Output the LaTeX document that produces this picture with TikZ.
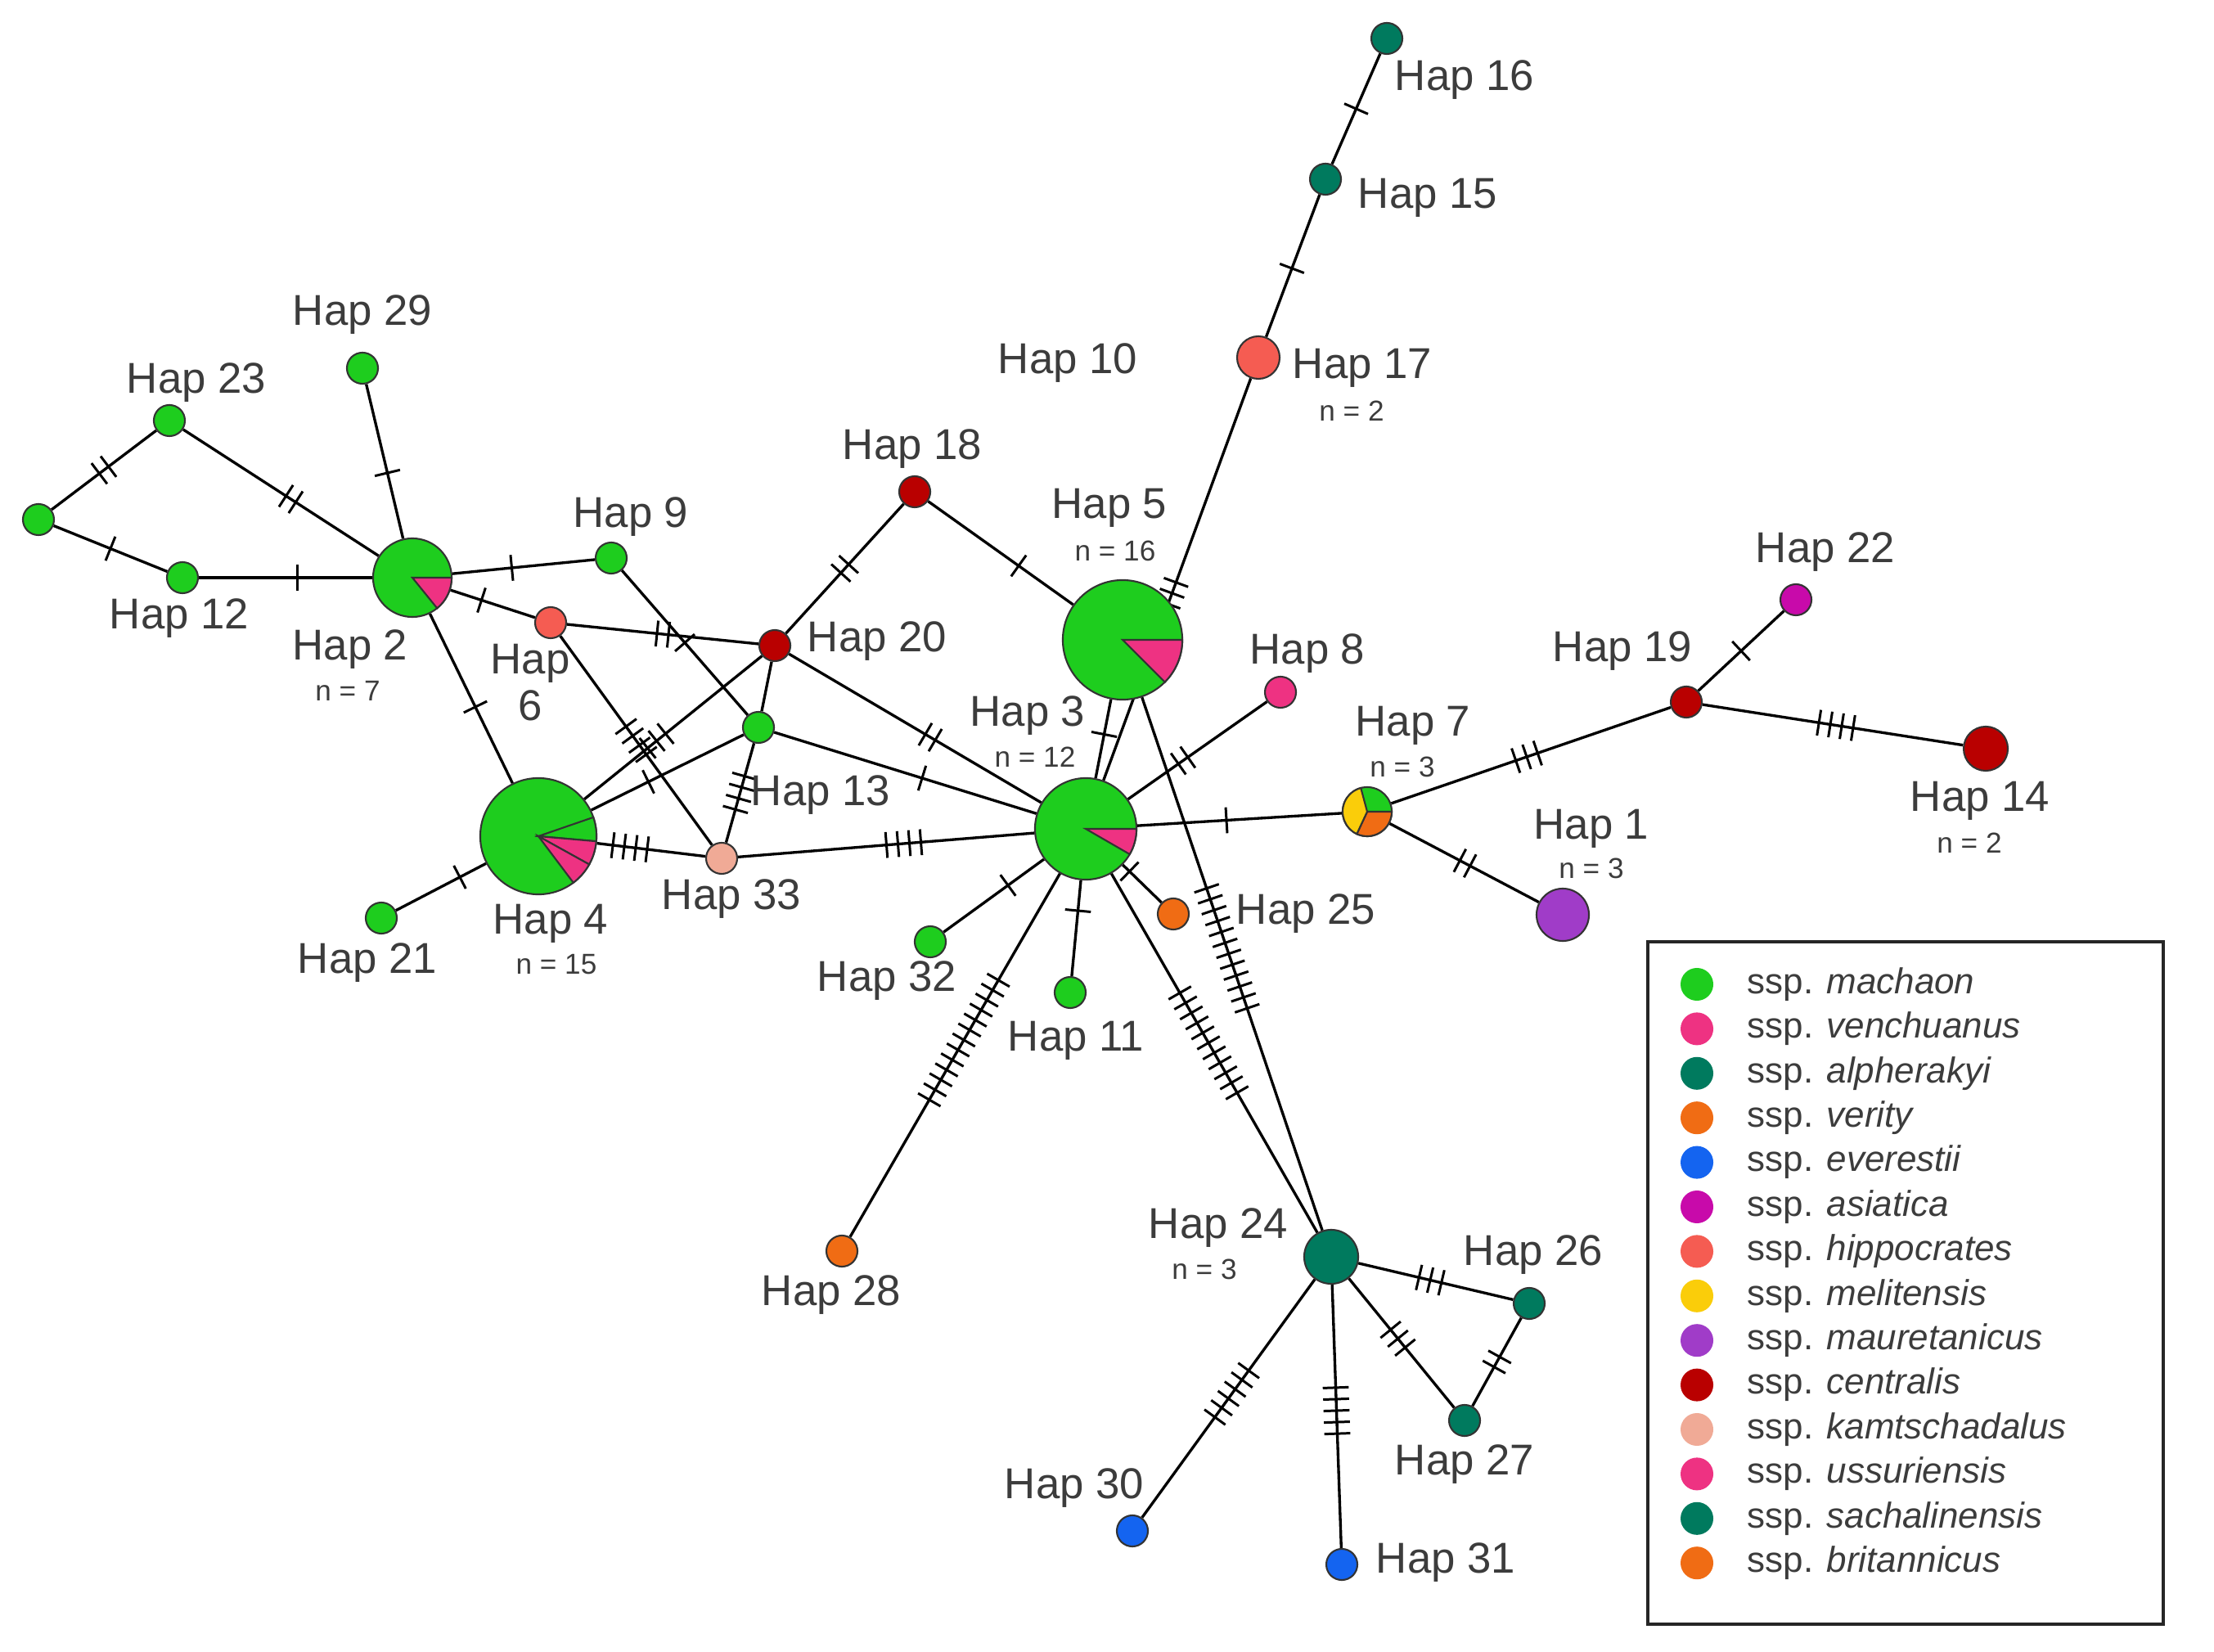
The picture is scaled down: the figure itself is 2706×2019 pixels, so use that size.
\documentclass[tikz,border=0pt]{standalone}
\usepackage{fontspec}
\setmainfont{Liberation Sans}
\usepackage{tikz}
\usetikzlibrary{calc,backgrounds}

\definecolor{cmach}{RGB}{30,205,30}
\definecolor{cpink}{RGB}{238,50,130}
\definecolor{cteal}{RGB}{0,122,94}
\definecolor{corange}{RGB}{240,108,20}
\definecolor{cblue}{RGB}{20,100,240}
\definecolor{cmagenta}{RGB}{200,10,170}
\definecolor{csalmon}{RGB}{245,92,82}
\definecolor{cyellow}{RGB}{250,205,10}
\definecolor{cpurple}{RGB}{160,60,200}
\definecolor{cdred}{RGB}{185,0,0}
\definecolor{cpeach}{RGB}{240,170,150}
\definecolor{labgray}{RGB}{60,60,60}

\tikzset{
  hap/.style={circle, draw=black!80, line width=0.6pt, inner sep=0pt, minimum size=0.38cm},
  edge/.style={line width=0.95pt},
  tick/.style={line width=0.85pt},
  lab/.style={text=labgray, font=\fontsize{15}{18}\selectfont, inner sep=0pt},
  cnt/.style={text=labgray, font=\fontsize{10}{12}\selectfont, inner sep=0pt},
  legdot/.style={circle, inner sep=0pt, minimum size=0.4cm},
  legtext/.style={text=labgray, font=\fontsize{12.5}{15}\selectfont, inner sep=0pt, anchor=west}
}

% edge with mutation ticks centred on it
\newcommand{\mutedge}[3]{%
  \draw[edge] (#1) -- (#2);
  \ifnum#3>0
    \coordinate (mid) at ($(#1)!0.5!(#2)$);
    \foreach \k in {1,...,#3}{
      \pgfmathsetmacro{\off}{(\k-(#3+1)/2)*4}
      \coordinate (tk) at ($(mid)!\off pt!(#2)$);
      \draw[tick] ($(tk)!4.5pt!90:(#2)$) -- ($(tk)!4.5pt!-90:(#2)$);
    }
  \fi
}
% pie slice of a haplotype
\newcommand{\pieslice}[5]{%
  \filldraw[fill=#5, draw=black!80, line width=0.6pt] (#1.center) -- ++(#3:#2) arc[start angle=#3, end angle=#4, radius=#2] -- cycle;
}

\begin{document}
\begin{tikzpicture}[x=0.01cm,y=0.01cm,yscale=-1,xscale=1]
\useasboundingbox (0,0) rectangle (2706,2019);

%Haplotypes
\node[hap, fill=cteal] (h16) at (1695,47) {};
\node[hap, fill=cteal] (h15) at (1620,219) {};
\node[hap, fill=csalmon, minimum size=0.52cm] (h17) at (1538,437) {};
\node[hap, fill=cmach] (h29) at (443,450) {};
\node[hap, fill=cmach] (h23) at (207,514) {};
\node[hap, fill=cmach] (hmv) at (47,635) {};
\node[hap, fill=cmach] (h12) at (223,706) {};
\node[hap, fill=cmach, minimum size=0.96cm] (h2) at (504,706) {};
\node[hap, fill=cmach] (h9) at (747,682) {};
\node[hap, fill=csalmon] (h6) at (673,761) {};
\node[hap, fill=cdred] (h18) at (1118,601) {};
\node[hap, fill=cdred] (h20) at (947,789) {};
\node[hap, fill=cmach, minimum size=1.46cm] (h5) at (1372,782) {};
\node[hap, fill=cmach] (h13) at (927,889) {};
\node[hap, fill=cmach, minimum size=1.42cm] (h4) at (658,1022) {};
\node[hap, fill=cpeach] (h33) at (882,1049) {};
\node[hap, fill=cmach] (h21) at (466,1122) {};
\node[hap, fill=cmach, minimum size=1.24cm] (h3) at (1327,1013) {};
\node[hap, fill=cpink] (h8) at (1565,846) {};
\node[hap, fill=cmach, minimum size=0.6cm] (h7) at (1671,992) {};
\node[hap, fill=cdred] (h19) at (2061,858) {};
\node[hap, fill=cmagenta] (h22) at (2195,733) {};
\node[hap, fill=cdred, minimum size=0.54cm] (h14) at (2427,915) {};
\node[hap, fill=cpurple, minimum size=0.64cm] (h1) at (1910,1118) {};
\node[hap, fill=corange] (h25) at (1434,1117) {};
\node[hap, fill=cmach] (h32) at (1137,1151) {};
\node[hap, fill=cmach] (h11) at (1308,1213) {};
\node[hap, fill=corange] (h28) at (1029,1529) {};
\node[hap, fill=cteal, minimum size=0.66cm] (h24) at (1627,1536) {};
\node[hap, fill=cteal] (h26) at (1869,1593) {};
\node[hap, fill=cteal] (h27) at (1790,1736) {};
\node[hap, fill=cblue] (h30) at (1384,1871) {};
\node[hap, fill=cblue] (h31) at (1640,1912) {};

%Pie slices
\pieslice{h2}{0.48cm}{0}{51}{cpink}
\pieslice{h5}{0.73cm}{0}{45}{cpink}
\pieslice{h3}{0.62cm}{0}{30}{cpink}
\pieslice{h4}{0.71cm}{-19}{5}{cmach}
\pieslice{h4}{0.71cm}{5}{29}{cpink}
\pieslice{h4}{0.71cm}{29}{53}{cpink}
\pieslice{h7}{0.3cm}{0}{115}{corange}
\pieslice{h7}{0.3cm}{115}{255}{cyellow}

%Connections
\begin{pgfonlayer}{background}
\fill[white] (0,0) rectangle (2706,2019);
\mutedge{h16}{h15}{1}
\mutedge{h15}{h17}{1}
\mutedge{h17}{h3}{3}
\mutedge{h29}{h2}{1}
\mutedge{h23}{h2}{2}
\mutedge{hmv}{h23}{2}
\mutedge{hmv}{h12}{1}
\mutedge{h12}{h2}{1}
\mutedge{h2}{h9}{1}
\mutedge{h2}{h6}{1}
\mutedge{h2}{h4}{1}
\mutedge{h6}{h20}{2}
\mutedge{h6}{h33}{4}
\mutedge{h9}{h13}{1}
\mutedge{h4}{h21}{1}
\mutedge{h4}{h33}{4}
\mutedge{h4}{h20}{3}
\mutedge{h4}{h13}{1}
\mutedge{h13}{h33}{4}
\mutedge{h20}{h13}{0}
\mutedge{h20}{h18}{2}
\mutedge{h18}{h5}{1}
\mutedge{h20}{h3}{2}
\mutedge{h13}{h3}{1}
\mutedge{h33}{h3}{4}
\mutedge{h5}{h3}{1}
\mutedge{h3}{h8}{2}
\mutedge{h3}{h7}{1}
\mutedge{h7}{h19}{3}
\mutedge{h7}{h1}{2}
\mutedge{h19}{h22}{1}
\mutedge{h19}{h14}{4}
\mutedge{h3}{h25}{1}
\mutedge{h3}{h32}{1}
\mutedge{h3}{h11}{1}
\mutedge{h3}{h28}{13}
\mutedge{h3}{h24}{11}
\mutedge{h5}{h24}{12}
\mutedge{h24}{h26}{3}
\mutedge{h24}{h27}{3}
\mutedge{h26}{h27}{2}
\mutedge{h24}{h30}{6}
\mutedge{h24}{h31}{5}
\end{pgfonlayer}

% Text Node
\node[lab] (t16) at (1790,98) {Hap 16};
\node[lab] (t15) at (1745,242) {Hap 15};
\node[lab] (t17) at (1665,450) {Hap 17};
\node[cnt] (n17) at (1652,502) {n = 2};
\node[lab] (t10) at (1305,444) {Hap 10};
\node[lab] (t29) at (443,385) {Hap 29};
\node[lab] (t23) at (240,468) {Hap 23};
\node[lab] (t12) at (219,756) {Hap 12};
\node[lab] (t2) at (428,794) {Hap 2};
\node[cnt] (n2) at (425,844) {n = 7};
\node[lab] (t9) at (771,632) {Hap 9};
\node[lab, align=center, font=\fontsize{15}{16}\selectfont] (t6) at (648,834) {Hap\\6};
\node[lab] (t18) at (1115,549) {Hap 18};
\node[lab] (t20) at (1072,784) {Hap 20};
\node[lab] (t5) at (1356,621) {Hap 5};
\node[cnt] (n5) at (1363,673) {n = 16};
\node[lab] (t8) at (1598,799) {Hap 8};
\node[lab] (t3) at (1256,875) {Hap 3};
\node[cnt] (n3) at (1265,925) {n = 12};
\node[lab] (t13) at (1003,972) {Hap 13};
\node[lab] (t4) at (673,1129) {Hap 4};
\node[cnt] (n4) at (680,1179) {n = 15};
\node[lab] (t33) at (894,1099) {Hap 33};
\node[lab] (t21) at (449,1177) {Hap 21};
\node[lab] (t7) at (1727,887) {Hap 7};
\node[cnt] (n7) at (1714,937) {n = 3};
\node[lab] (t19) at (1983,796) {Hap 19};
\node[lab] (t22) at (2231,675) {Hap 22};
\node[lab] (t14) at (2420,979) {Hap 14};
\node[cnt] (n14) at (2407,1030) {n = 2};
\node[lab] (t1) at (1945,1013) {Hap 1};
\node[cnt] (n1) at (1945,1061) {n = 3};
\node[lab] (t25) at (1596,1117) {Hap 25};
\node[lab] (t32) at (1084,1199) {Hap 32};
\node[lab] (t11) at (1315,1272) {Hap 11};
\node[lab] (t28) at (1016,1583) {Hap 28};
\node[lab] (t24) at (1489,1501) {Hap 24};
\node[cnt] (n24) at (1472,1551) {n = 3};
\node[lab] (t26) at (1874,1534) {Hap 26};
\node[lab] (t27) at (1790,1790) {Hap 27};
\node[lab] (t30) at (1313,1819) {Hap 30};
\node[lab] (t31) at (1767,1910) {Hap 31};

%Legend
\draw[line width=0.9pt, black!85] (2014,1151) rectangle (2644,1985);
\foreach \c/\s [count=\i from 0] in {cmach/machaon, cpink/venchuanus, cteal/alpherakyi, corange/verity, cblue/everestii, cmagenta/asiatica, csalmon/hippocrates, cyellow/melitensis, cpurple/mauretanicus, cdred/centralis, cpeach/kamtschadalus, cpink/ussuriensis, cteal/sachalinensis, corange/britannicus}{
  \node[legdot, fill=\c] (ld\i) at (2074,{1203+54.4*\i}) {};
  \node[legtext] (lt\i) at (2135,{1203+54.4*\i}) {ssp. \textit{\s}};
}
\end{tikzpicture}
\end{document}
